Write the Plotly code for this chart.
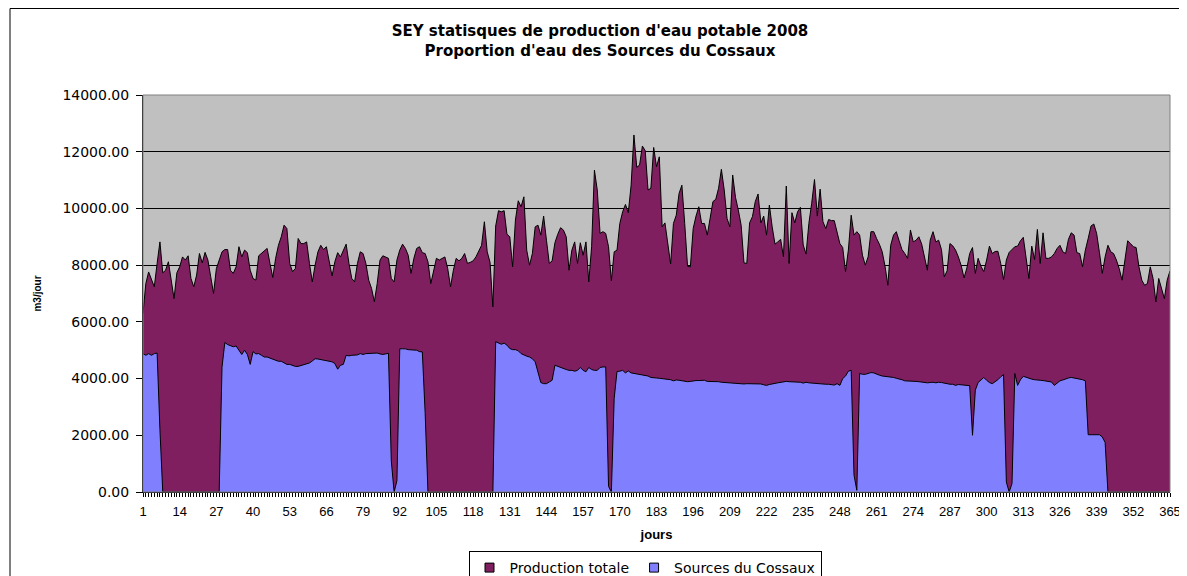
import plotly.graph_objects as go

# ---- data (m3/jour), days 1..365 ----
days = list(range(1, 366))

production_totale = [
    6300, 7350, 7760, 7530, 7235, 8060, 8820, 7730, 7820, 8120,
    7530, 6820, 7730, 7940, 8290, 8180, 8330, 7530, 7235, 7650,
    8410, 8080, 8450, 8180, 7590, 7000, 7880, 8180, 8470, 8550,
    8550, 7820, 7710, 7940, 8650, 8290, 8530, 8440, 7820, 7530,
    7470, 8330, 8410, 8500, 8590, 8060, 7565, 8240, 8700, 9000,
    9410, 9290, 8060, 7770, 7880, 8940, 8760, 8760, 8820, 8060,
    7410, 8000, 8470, 8700, 8550, 8650, 8060, 7620, 8120, 8440,
    8290, 8530, 8740, 8060, 7530, 7410, 8060, 8470, 8410, 8060,
    7470, 7180, 6710, 7350, 8180, 8330, 8290, 8240, 7530, 7410,
    8180, 8530, 8740, 8590, 8350, 7710, 8240, 8590, 8650, 8440,
    8410, 8120, 7350, 7770, 8240, 8180, 8240, 8290, 7880, 7235,
    7820, 8240, 8150, 8240, 8410, 8060, 8100, 8150, 8290, 8470,
    8700, 9530, 8470, 8100, 6530, 9380, 9920, 9880, 9920, 9090,
    9000, 7940, 9590, 10270, 10060, 10410, 8530, 8000, 8410, 9350,
    9410, 9060, 9730, 8880, 8060, 8150, 8790, 9090, 9320, 9240,
    9000, 7820, 8530, 8820, 8060, 8790, 8350, 8820, 7410, 8650,
    11350, 10650, 9120, 9180, 9120, 8650, 7450, 8470, 8530, 9470,
    9880, 10140, 9850, 10820, 12590, 11450, 11530, 12200, 12040, 10650,
    10710, 12150, 11470, 11820, 9350, 9490, 8820, 8040, 9470, 9760,
    10530, 10820, 9470, 7960, 7940, 9290, 9730, 10060, 9470, 9470,
    9060, 9590, 10240, 10320, 10710, 11380, 10650, 9650, 9350, 11180,
    10390, 9940, 9410, 8080, 8060, 9490, 9710, 10240, 10510, 9490,
    9730, 9060, 10120, 9350, 8740, 8820, 8910, 8290, 10790, 8060,
    9850, 9490, 9880, 10040, 8710, 8390, 9470, 10180, 11020, 9730,
    10680, 9530, 9290, 9610, 9570, 9570, 9210, 8760, 8620, 7770,
    8530, 9760, 9060, 9180, 9060, 8350, 8000, 8290, 9180, 9180,
    8940, 8740, 8470, 7960, 7290, 8700, 9060, 9180, 8860, 8550,
    8410, 8240, 9240, 8820, 8880, 9000, 8740, 8240, 7820, 8880,
    9180, 8820, 8880, 8550, 7590, 7800, 8760, 8680, 8530, 8290,
    7980, 7550, 7900, 8410, 8620, 7710, 8240, 7960, 7770, 8180,
    8670, 8410, 8480, 8490, 8060, 7490, 8180, 8450, 8570, 8650,
    8670, 8860, 8980, 8180, 7530, 8670, 8200, 9260, 8060, 9140,
    8240, 8240, 8290, 8410, 8590, 8700, 8470, 8410, 8910, 9140,
    9060, 8440, 8410, 7940, 8530, 8940, 9380, 9450, 9120, 8440,
    7710, 8290, 8700, 8470, 8410, 8180, 7880, 7470, 8240, 8860,
    8760, 8650, 8620, 7940, 7470, 7290, 7350, 7940, 7530, 6700,
    7530, 7120, 6820, 7470, 7800,
]

sources_du_cossaux = [
    4880, 4820, 4880, 4820, 4880, 4900, 2200, 0, 0, 0,
    0, 0, 0, 0, 0, 0, 0, 0, 0, 0,
    0, 0, 0, 0, 0, 0, 0, 0, 4400, 5270,
    5200, 5150, 5120, 5150, 4980, 4850, 5000, 4850, 4500, 4950,
    4870, 4880, 4820, 4760, 4760, 4720, 4690, 4650, 4610, 4610,
    4550, 4500, 4500, 4470, 4430, 4430, 4460, 4480, 4500, 4550,
    4620, 4700, 4690, 4670, 4650, 4640, 4620, 4590, 4530, 4330,
    4470, 4500, 4820, 4800, 4820, 4820, 4835, 4880, 4850, 4880,
    4880, 4890, 4890, 4900, 4870, 4850, 4870, 4890, 1100, 0,
    400, 5050, 5050, 5050, 5020, 5020, 5020, 5000, 4950, 4940,
    2800, 0, 0, 0, 0, 0, 0, 0, 0, 0,
    0, 0, 0, 0, 0, 0, 0, 0, 0, 0,
    0, 0, 0, 0, 0, 5300, 5260, 5210, 5250, 5180,
    5060, 5020, 5020, 4980, 4880, 4820, 4790, 4760, 4700, 4590,
    4240, 3860, 3820, 3820, 3880, 3940, 4470, 4430, 4390, 4340,
    4320, 4290, 4290, 4260, 4290, 4390, 4290, 4240, 4390, 4320,
    4290, 4290, 4390, 4410, 4410, 200, 0, 3300, 4250, 4260,
    4290, 4200, 4270, 4200, 4180, 4150, 4140, 4120, 4110, 4090,
    4040, 4040, 4020, 4010, 4000, 4000, 3990, 3960, 3920, 3950,
    3940, 3920, 3890, 3890, 3900, 3920, 3930, 3930, 3930, 3940,
    3900, 3900, 3900, 3900, 3890, 3870, 3860, 3850, 3840, 3830,
    3830, 3820, 3820, 3810, 3820, 3820, 3810, 3810, 3800, 3810,
    3780, 3760, 3790, 3800, 3830, 3850, 3870, 3880, 3900, 3890,
    3890, 3880, 3880, 3870, 3840, 3870, 3850, 3840, 3820, 3820,
    3820, 3810, 3800, 3800, 3790, 3770, 3820, 3760, 4000, 4090,
    4260, 4290, 600, 60, 4180, 4150, 4150, 4180, 4210, 4200,
    4150, 4120, 4090, 4080, 4070, 4060, 4040, 4010, 3990, 3960,
    3920, 3920, 3920, 3920, 3900, 3890, 3870, 3850, 3850, 3860,
    3870, 3850, 3870, 3860, 3840, 3800, 3800, 3800, 3760, 3790,
    3780, 3780, 3750, 3750, 2000, 3590, 3860, 3940, 4040, 3940,
    3860, 3820, 3880, 3960, 4060, 4140, 350, 0, 300, 4180,
    3760, 3960, 4080, 4040, 4000, 3980, 3960, 3940, 3940, 3930,
    3920, 3900, 3880, 3760, 3850, 3920, 3950, 3990, 4020, 4040,
    4020, 4010, 3990, 3960, 3920, 2020, 2020, 2020, 2020, 2020,
    1940, 1750, 0, 0, 0, 0, 0, 0, 0, 0,
    0, 0, 0, 0, 0, 0, 0, 0, 0, 0,
    0, 0, 0, 0, 0,
]

series_names = ["Production totale", "Sources du Cossaux"]
series_colors = ["#7F1F5F", "#8080FF"]
tick_days = list(range(1, 366, 13))
y_ticks = [0, 2000, 4000, 6000, 8000, 10000, 12000, 14000]

assert len(production_totale) == 365, len(production_totale)
assert len(sources_du_cossaux) == 365, len(sources_du_cossaux)

# page has an 8px body margin: figure coords = page coords - 8
ML, MT, PW, PH = 135, 87, 1027, 397
PB = MT + PH  # plot bottom in figure px

fig = go.Figure()
for name, vals, col in zip(series_names, [production_totale, sources_du_cossaux], series_colors):
    fig.add_trace(go.Scatter(
        x=days, y=vals, name=name, mode="lines", showlegend=False,
        line=dict(color="black", width=1), fill="tozeroy", fillcolor=col,
    ))
# legend swatches (square, as in the original)
for name, col in zip(series_names, series_colors):
    fig.add_trace(go.Scatter(
        x=[None], y=[None], name=name, mode="markers",
        marker=dict(symbol="square", size=9, color=col, line=dict(color="black", width=1)),
    ))

fig.update_layout(
    width=1187, height=576,
    margin=dict(l=ML, r=1187 - ML - PW, t=MT, b=576 - MT - PH, autoexpand=False),
    paper_bgcolor="white", plot_bgcolor="#C0C0C0",
    font=dict(family="Liberation Sans, Arial", color="black", size=12),
    title=dict(
        text="<b>SEY statisques de production d'eau potable 2008<br>Proportion d'eau des Sources du Cossaux</b>",
        x=592 / 1187, xanchor="center", xref="container",
        y=1 - 28 / 576, yanchor="top", yref="container",
        font=dict(family="DejaVu Sans", size=15, color="black"),
    ),
    showlegend=True,
    legend=dict(
        orientation="h", x=(637 - ML) / PW, xanchor="center",
        y=(PB - 543) / PH, yanchor="top",
        bordercolor="black", borderwidth=1, bgcolor="white",
        font=dict(family="DejaVu Sans", size=14),
        itemwidth=30, tracegroupgap=0,
    ),
    xaxis=dict(
        range=[1, 365], tickmode="array", tickvals=tick_days,
        ticktext=[str(d) for d in tick_days],
        showgrid=False, zeroline=False, showline=True, linecolor="black", linewidth=1,
        ticks="outside", ticklen=4, tickcolor="black", ticklabelstandoff=3,
        minor=dict(tickmode="linear", tick0=1, dtick=1, ticks="outside",
                   ticklen=4, tickcolor="black", showgrid=False),
        tickfont=dict(family="Liberation Sans, Arial", size=13),
        title=dict(text="<b>jours</b>", standoff=12,
                   font=dict(family="Liberation Sans, Arial", size=13)),
    ),
    yaxis=dict(
        range=[0, 14000], tickmode="array", tickvals=y_ticks, tickformat=".2f",
        showgrid=True, gridcolor="black", gridwidth=1, zeroline=False,
        showline=True, linecolor="black", linewidth=1,
        ticks="outside", ticklen=6, tickcolor="black", ticklabelstandoff=4,
        tickfont=dict(family="DejaVu Sans", size=14),
        title=dict(text="<b>m3/jour</b>", standoff=18,
                   font=dict(family="Liberation Sans, Arial", size=10)),
    ),
    shapes=[
        dict(type="rect", xref="paper", yref="paper", x0=0, x1=1, y0=0, y1=1,
             line=dict(color="#808080", width=1), layer="above"),
        dict(type="rect", xref="paper", yref="paper",
             x0=(2 - ML) / PW, x1=(1173 - ML) / PW,
             y0=-0.3, y1=(PB - 0.5) / PH,
             line=dict(color="black", width=1), layer="above"),
    ],
)

fig.write_html("out.html")
